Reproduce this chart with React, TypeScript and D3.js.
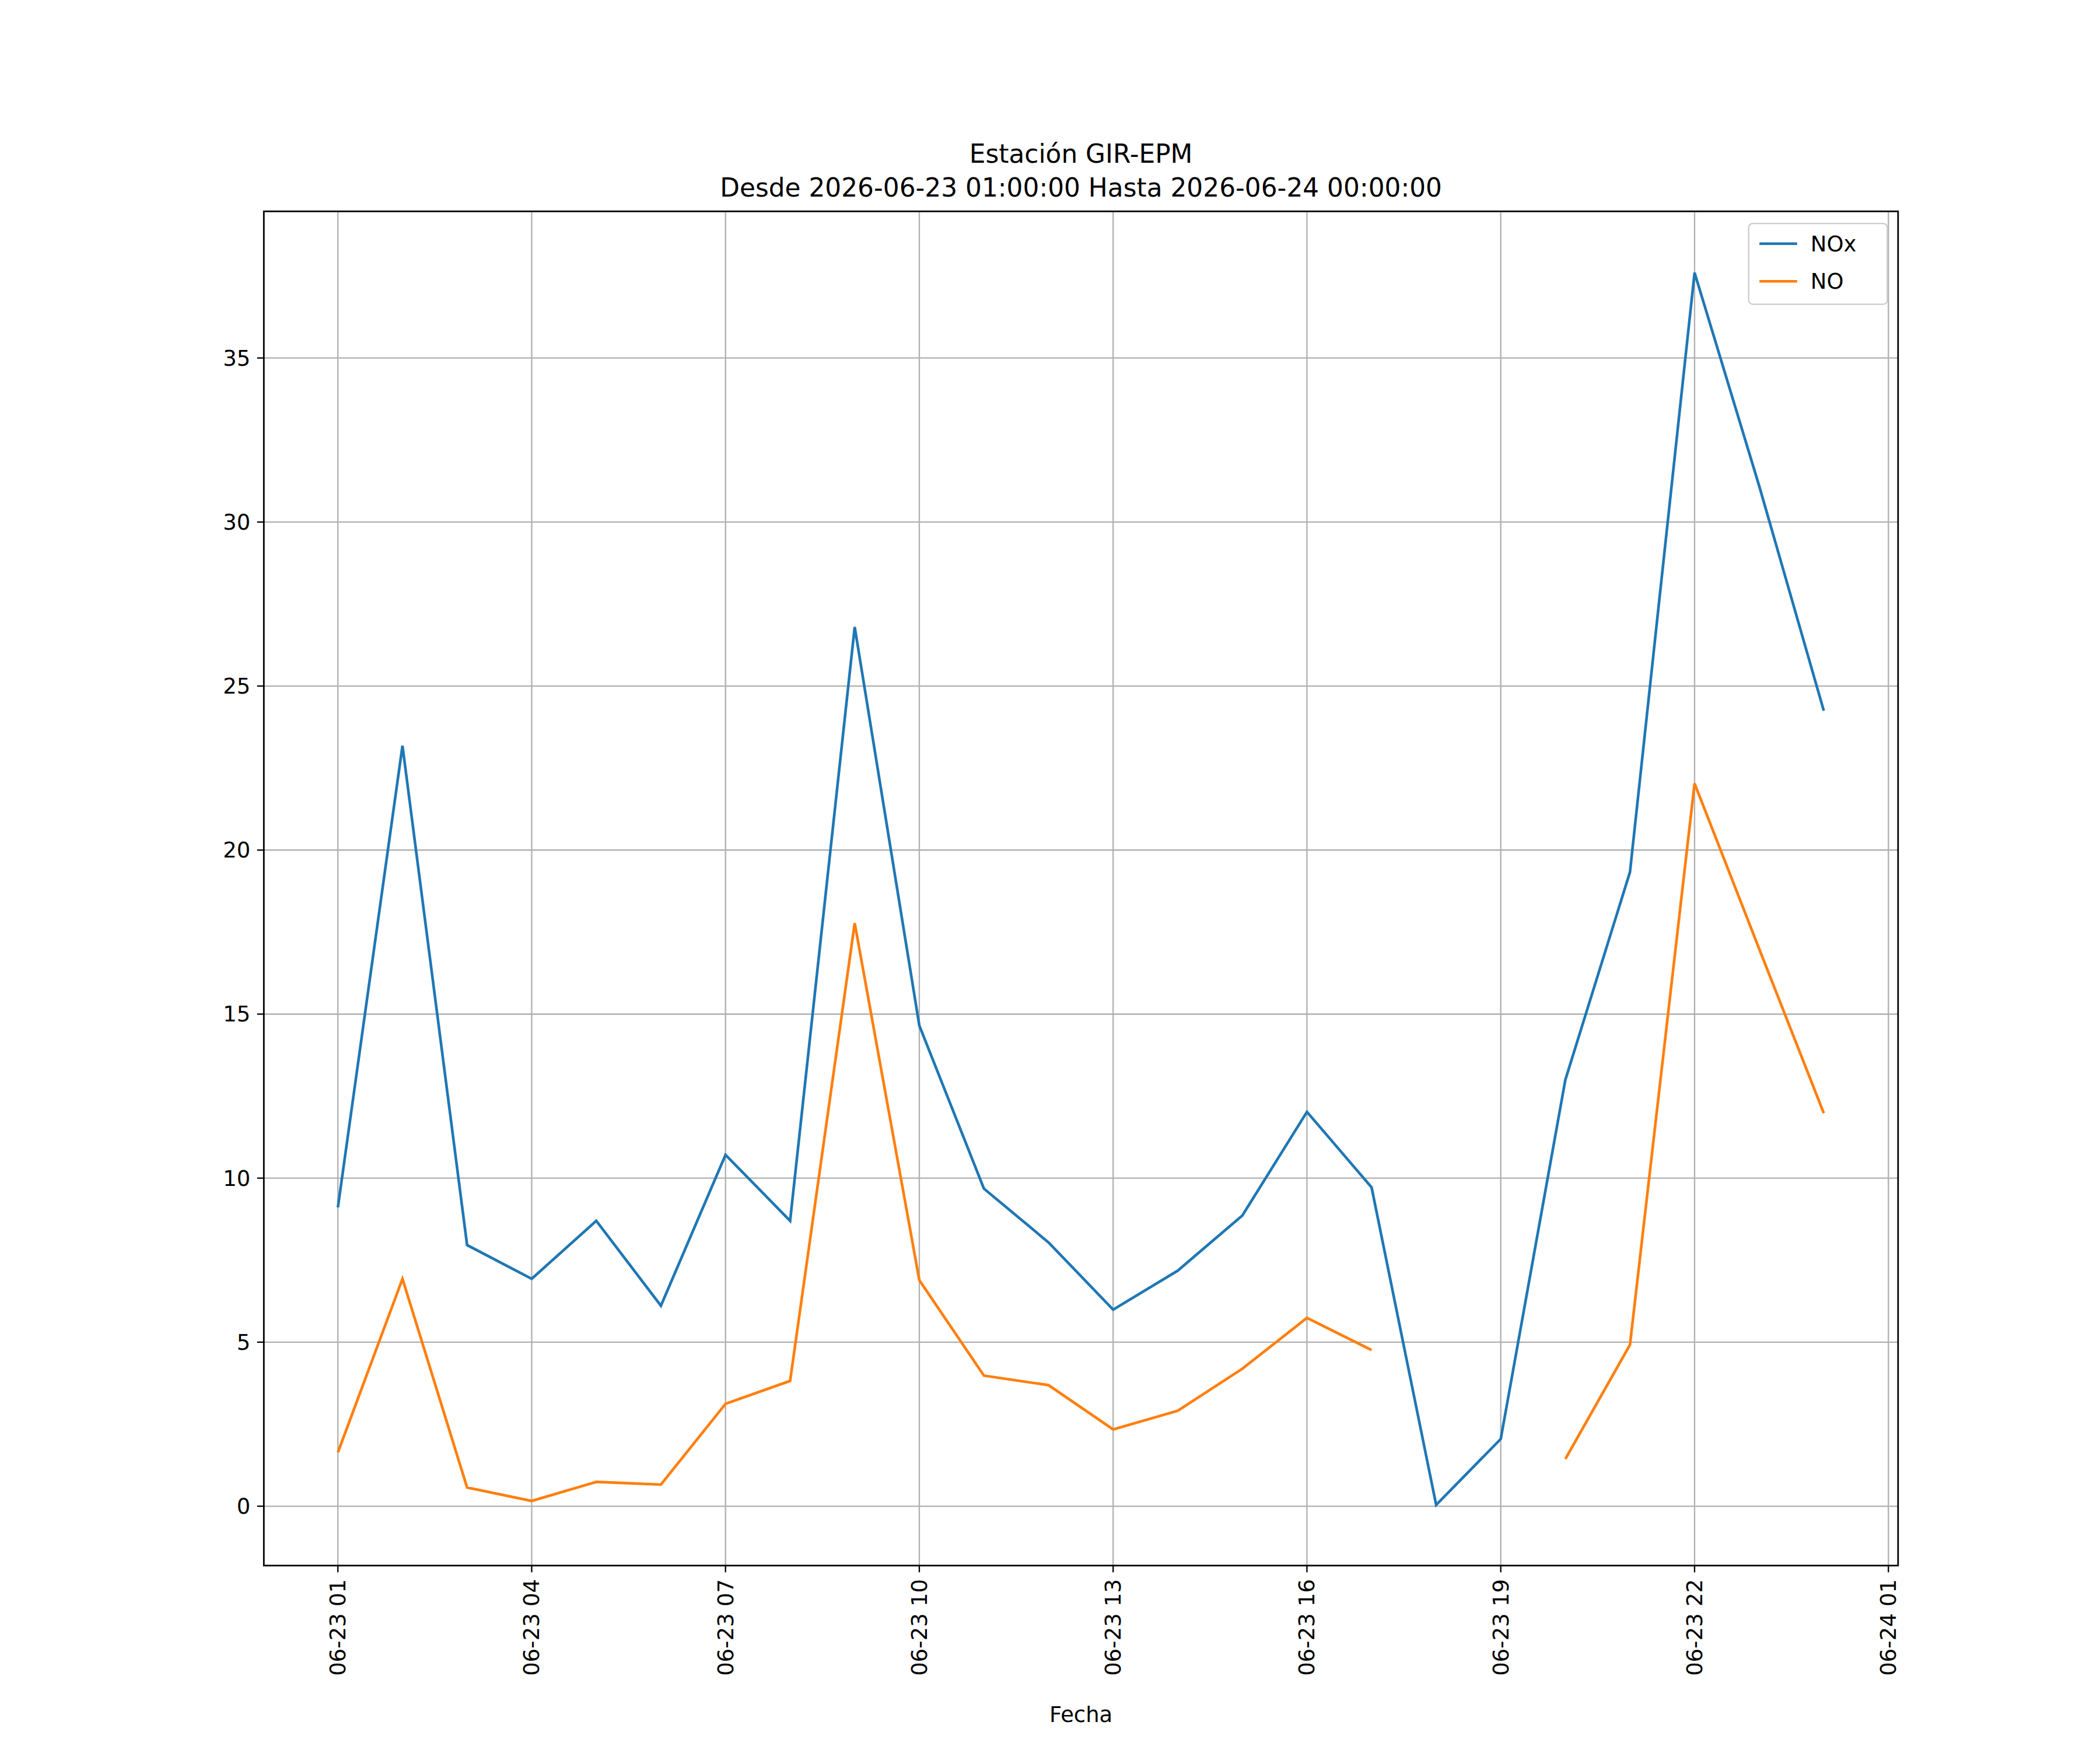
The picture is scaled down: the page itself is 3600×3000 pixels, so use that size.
import * as d3 from 'd3';

// hours since 2026-06-23 00:00
const hours = d3.range(1, 25);
const noxValues = [9.11, 23.18, 7.96, 6.93, 8.7, 6.11, 10.71, 8.7, 26.8, 14.65, 9.68, 8.04, 5.99, 7.18, 8.86, 12.02, 9.72, 0.04, 2.05, 13.0, 19.33, 37.6, 31.1, 24.25];
const noValues: Array<number | null> = [1.64, 6.93, 0.57, 0.16, 0.74, 0.66, 3.12, 3.82, 17.77, 6.89, 3.98, 3.69, 2.34, 2.91, 4.19, 5.74, 4.76, null, null, 1.44, 4.92, 22.03, 16.99, 11.98];
const yTicks = [0, 5, 10, 15, 20, 25, 30, 35];
const xTickHours = [1, 4, 7, 10, 13, 16, 19, 22, 25];

const base = Date.UTC(2026, 5, 23, 0);
const toDate = (h: number) => new Date(base + h * 3600000);
const fmt = d3.utcFormat('%m-%d %H');

export default function App() {
  const W = 1560, H = 1300;
  const m = { left: 196, right: 1410, top: 157, bottom: 1163 };
  const x = d3.scaleUtc().domain([toDate(-0.146), toDate(25.15)]).range([m.left, m.right]);
  const y = d3.scaleLinear().domain([-1.81, 39.47]).range([m.bottom, m.top]);
  const line = d3
    .line<[number, number | null]>()
    .defined((d) => d[1] != null)
    .x((d) => x(toDate(d[0])))
    .y((d) => y(d[1] as number));
  const font = 'DejaVu Sans, sans-serif';
  const series = [
    { name: 'NOx', color: '#1f77b4', vals: noxValues },
    { name: 'NO', color: '#ff7f0e', vals: noValues },
  ];
  return (
    <svg
      width={3600}
      height={3000}
      viewBox={`0 0 ${W} ${H}`}
      style={{ display: 'block', background: '#fff', position: 'absolute', left: 0, top: 0 }}
      fontFamily={font}
    >
      <rect width={W} height={H} fill="#fff" />
      {yTicks.map((t) => (
        <g key={t}>
          <line x1={m.left} x2={m.right} y1={y(t)} y2={y(t)} stroke="#b0b0b0" strokeWidth={1} />
          <line x1={m.left - 5} x2={m.left} y1={y(t)} y2={y(t)} stroke="#000" />
          <text x={m.left - 10} y={y(t)} dy="0.35em" textAnchor="end" fontSize={16}>{t}</text>
        </g>
      ))}
      {xTickHours.map((h) => {
        const xx = x(toDate(h));
        return (
          <g key={h}>
            <line x1={xx} x2={xx} y1={m.top} y2={m.bottom} stroke="#b0b0b0" strokeWidth={1} />
            <line x1={xx} x2={xx} y1={m.bottom} y2={m.bottom + 5} stroke="#000" />
            <text transform={`translate(${xx},${m.bottom + 10}) rotate(-90)`} dy="0.35em" textAnchor="end" fontSize={16}>
              {fmt(toDate(h))}
            </text>
          </g>
        );
      })}
      {series.map((s) => (
        <path
          key={s.name}
          d={line(hours.map((h, i) => [h, s.vals[i]] as [number, number | null])) ?? ''}
          fill="none"
          stroke={s.color}
          strokeWidth={2}
        />
      ))}
      <rect x={m.left} y={m.top} width={m.right - m.left} height={m.bottom - m.top} fill="none" stroke="#000" strokeWidth={1.2} />
      <g transform="translate(1299,166)">
        <rect width={103} height={60} fill="#fff" fillOpacity={0.8} stroke="#ccc" rx={3} />
        {series.map((s, i) => (
          <g key={s.name} transform={`translate(8,${15 + i * 28})`}>
            <line x1={0} x2={28} y1={0} y2={0} stroke={s.color} strokeWidth={2} />
            <text x={38} dy="0.35em" fontSize={16}>{s.name}</text>
          </g>
        ))}
      </g>
      <text x={(m.left + m.right) / 2} y={121} textAnchor="middle" fontSize={19}>Estación GIR-EPM</text>
      <text x={(m.left + m.right) / 2} y={146} textAnchor="middle" fontSize={19}>Desde 2026-06-23 01:00:00 Hasta 2026-06-24 00:00:00</text>
      <text x={(m.left + m.right) / 2} y={1279} textAnchor="middle" fontSize={16}>Fecha</text>
    </svg>
  );
}
